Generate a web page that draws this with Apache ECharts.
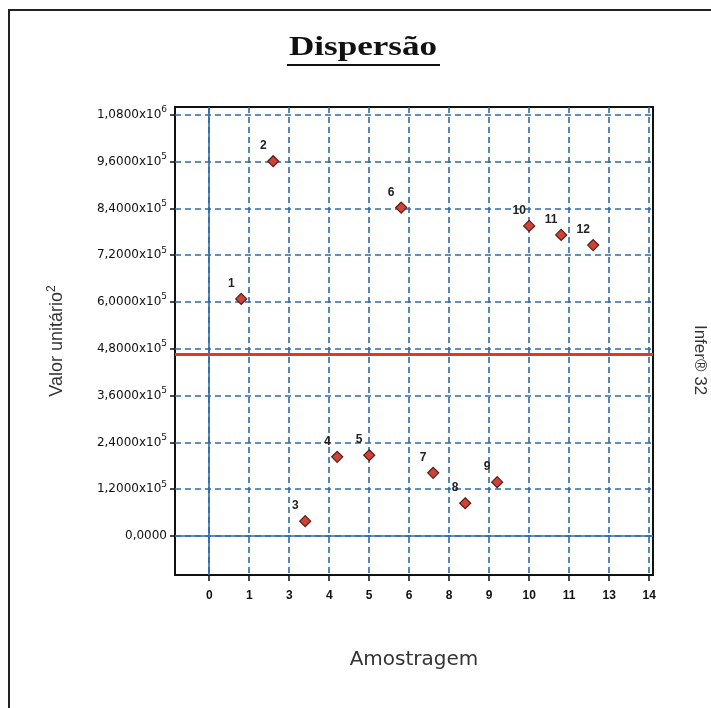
<!DOCTYPE html>
<html><head><meta charset="utf-8">
<script src="https://cdn.jsdelivr.net/npm/echarts@6/dist/echarts.min.js"></script>
<style>html,body{margin:0;padding:0;background:#fff}#c{width:711px;height:708px}</style>
</head><body><div id="c"></div>
<script>
const sampleIds = [1, 2, 3, 4, 5, 6, 7, 8, 9, 10, 11, 12];
const unitValues = [608000, 961000, 38000, 203000, 207000, 842000, 162000, 84000, 138000, 795000, 772000, 746000];
const meanValue = 466000;
const yTickValues = [0, 120000, 240000, 360000, 480000, 600000, 720000, 840000, 960000, 1080000];
const xTickValues = [0, 1.25, 2.5, 3.75, 5, 6.25, 7.5, 8.75, 10, 11.25, 12.5, 13.75];
const xTickLabels = ['0', '1', '3', '4', '5', '6', '8', '9', '10', '11', '13', '14'];

const BLUE = '#2c6aab';

function yLabel(v) {
  if (Math.abs(v) < 1) return '{m|0,0000}';
  const exp = v >= 1e6 ? 6 : 5;
  const m = (v / Math.pow(10, exp)).toFixed(4).replace('.', ',');
  return '{m|' + m + 'x10}{e|' + exp + '}';
}
function xLabel(v) {
  let best = 0, d = Infinity;
  xTickValues.forEach((t, i) => { if (Math.abs(t - v) < d) { d = Math.abs(t - v); best = i; } });
  return xTickLabels[best];
}

const chart = echarts.init(document.getElementById('c'), null, { renderer: 'canvas' });
chart.setOption({
  animation: false,
  backgroundColor: '#ffffff',
  grid: { left: 175, top: 107, width: 478, height: 468, show: true, borderColor: '#111', borderWidth: 2, backgroundColor: 'transparent' },
  xAxis: {
    type: 'value', min: -1.07, max: 13.87, position: 'bottom',
    axisLine: { show: false, onZero: false },
    axisTick: { show: true, customValues: xTickValues, length: 6, lineStyle: { color: '#111', width: 1.5 } },
    axisLabel: { customValues: xTickValues, formatter: xLabel, margin: 15, fontSize: 12, fontWeight: 'bold', color: '#111', fontFamily: 'Liberation Sans' },
    splitLine: { show: true, lineStyle: { color: BLUE, type: [6, 4], width: 1.6 } },
    name: 'Amostragem', nameLocation: 'middle', nameGap: 75,
    nameTextStyle: { fontSize: 20, fontFamily: 'DejaVu Sans', color: '#333' }
  },
  yAxis: {
    type: 'value', min: -100000, max: 1100000, position: 'left',
    axisLine: { show: false, onZero: false },
    axisTick: { show: true, customValues: yTickValues, length: 5, lineStyle: { color: '#111', width: 1.5 } },
    axisLabel: {
      customValues: yTickValues, formatter: yLabel, margin: 8,
      rich: {
        m: { fontSize: 12, fontFamily: 'DejaVu Sans', color: '#111' },
        e: { fontSize: 9, fontFamily: 'DejaVu Sans', color: '#111', padding: [0, 0, 10, 0] }
      }
    },
    splitLine: { show: true, lineStyle: { color: BLUE, type: [6, 4], width: 1.6 } },
    name: '{n|Valor unitário}{s|2}', nameLocation: 'middle', nameGap: 107, nameRotate: 90,
    nameTextStyle: {
      rich: {
        n: { fontSize: 18, fontFamily: 'Liberation Sans', color: '#333' },
        s: { fontSize: 12, fontFamily: 'Liberation Sans', color: '#333', padding: [0, 0, 10, 0] }
      }
    }
  },
  series: [{
    type: 'scatter',
    data: sampleIds.map((id, i) => ({ name: String(id), value: [id, unitValues[i]] })),
    symbol: 'diamond', symbolSize: 11,
    itemStyle: { color: '#c9443a', borderColor: '#5b1a12', borderWidth: 1.2, opacity: 1 },
    label: { show: true, position: 'top', distance: 3, offset: [-10, 0], formatter: '{b}', fontSize: 12, fontWeight: 'bold', color: '#222', fontFamily: 'Liberation Sans' },
    z: 5,
    markLine: {
      silent: true, symbol: ['none', 'none'], label: { show: false }, animation: false,
      data: [
        { yAxis: 0, lineStyle: { color: BLUE, type: 'solid', width: 1.6 } },
        { xAxis: 0, lineStyle: { color: BLUE, type: 'solid', width: 1.6 } },
        { yAxis: meanValue, lineStyle: { color: '#e8352b', type: 'solid', width: 3 } }
      ]
    }
  }],
  graphic: [
    { type: 'rect', shape: { x: 9, y: 10, width: 760, height: 760 }, style: { fill: 'none', stroke: '#222', lineWidth: 2 }, silent: true },
    { type: 'text', x: 363, y: 48, scaleX: 1.3, style: { text: 'Dispersão', font: 'bold 27px "Liberation Serif"', align: 'center', verticalAlign: 'middle', fill: '#111' } },
    { type: 'line', shape: { x1: 287, y1: 65, x2: 440, y2: 65 }, style: { stroke: '#111', lineWidth: 2 } },
    { type: 'text', x: 700, y: 360, rotation: -Math.PI / 2, style: { text: 'Infer® 32', font: '17px "Liberation Sans"', align: 'center', verticalAlign: 'middle', fill: '#333' } }
  ]
});
</script>
</body></html>
